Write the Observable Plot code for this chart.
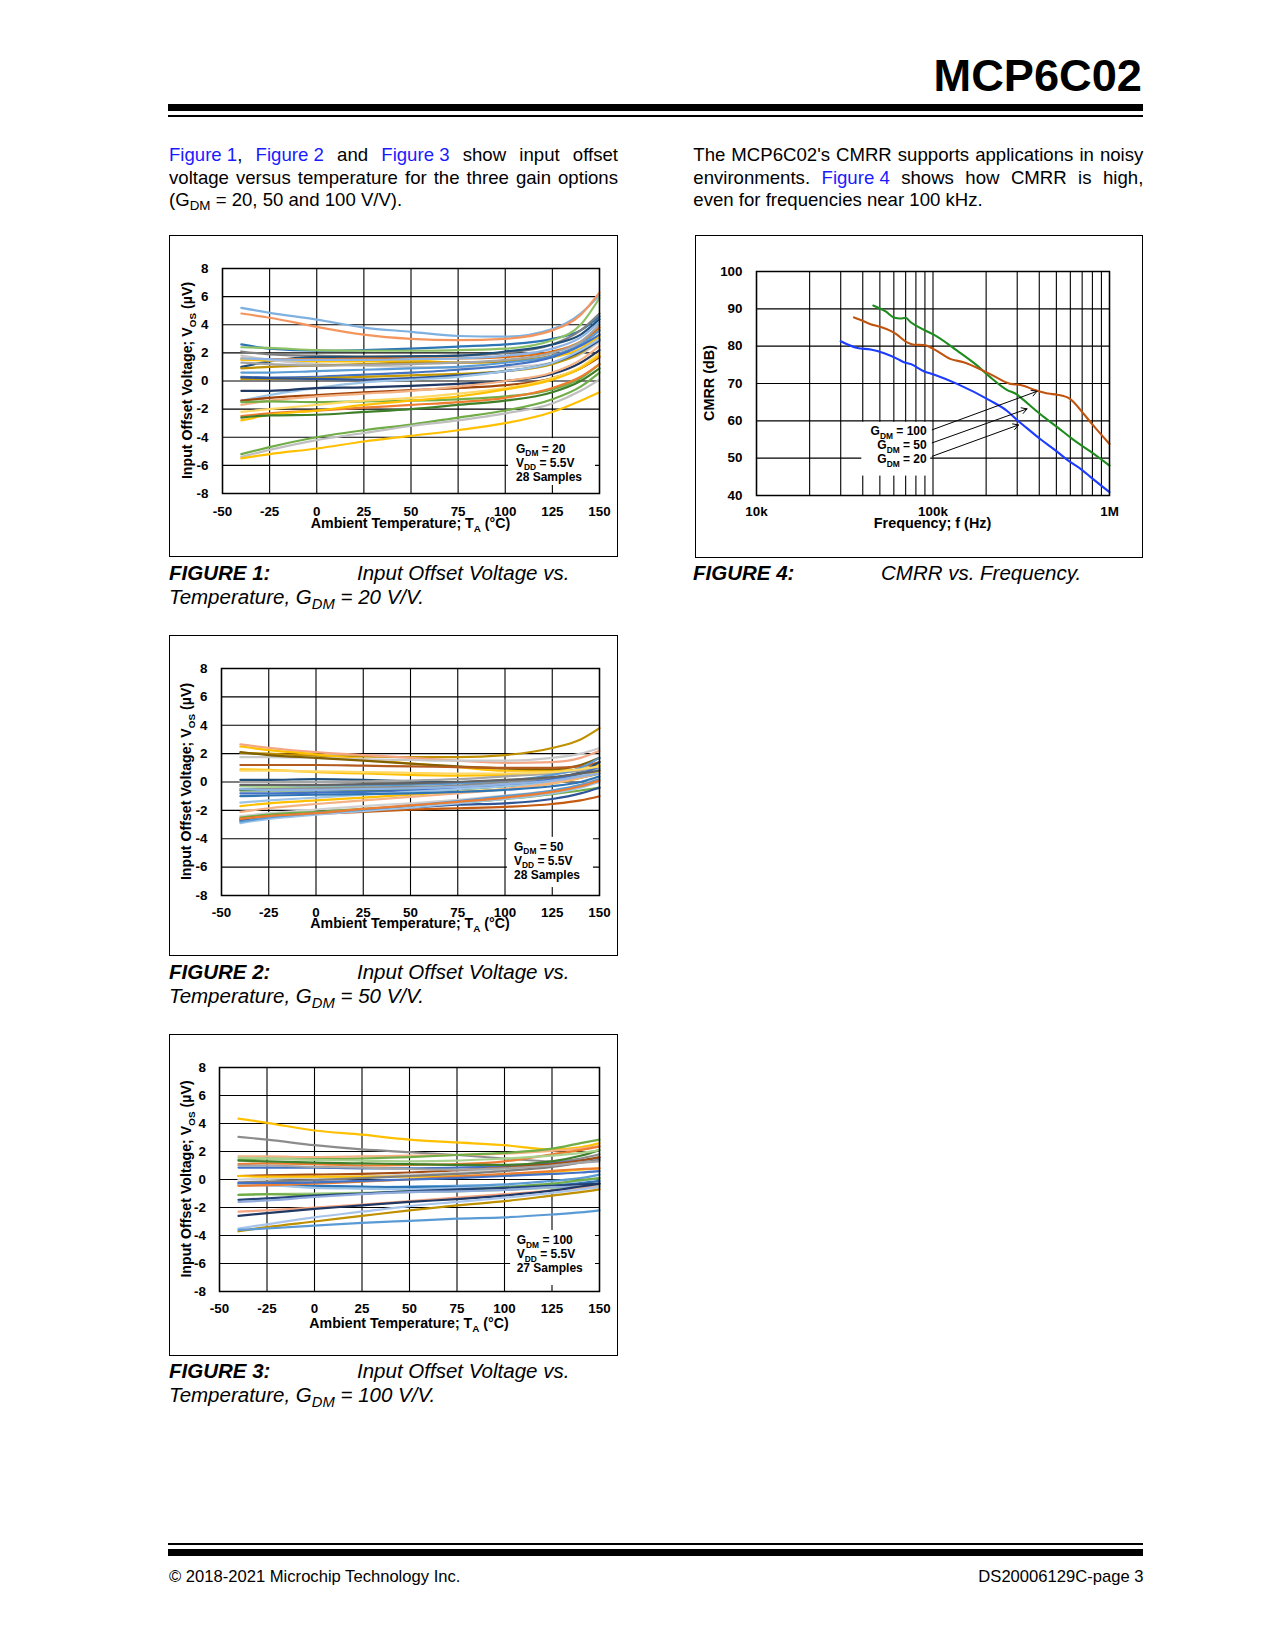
<!DOCTYPE html>
<html><head><meta charset="utf-8">
<script src="https://cdn.jsdelivr.net/npm/d3@7"></script>
<script src="https://cdn.jsdelivr.net/npm/@observablehq/plot@0.6"></script>
<style>
html,body{margin:0;padding:0;background:#fff;}
body{width:1275px;height:1650px;position:relative;font-family:"Liberation Sans",Arial,Helvetica,sans-serif;color:#000;overflow:hidden;}
.abs{position:absolute;white-space:nowrap;}
.rule{position:absolute;background:#000;left:168px;width:975px;}
.para{position:absolute;font-size:18.6px;line-height:22.5px;}
.para .j{text-align:justify;text-align-last:justify;white-space:nowrap;}
.link{color:#1a1aff;display:inline-block;}
.cap{position:absolute;font-size:20.5px;font-style:italic;line-height:24px;white-space:nowrap;}
.cap b{display:inline-block;width:188px;}
.chart{position:absolute;outline:1.2px solid #000;outline-offset:-1.2px;}
.chart svg{display:block;}
sub{font-size:0.72em;vertical-align:-0.32em;line-height:0;}
</style></head><body>

<div class="abs" style="left:700px;width:442px;text-align:right;top:52.7px;font-size:45.2px;line-height:45.2px;font-weight:bold;">MCP6C02</div>
<div class="rule" style="top:104px;height:7px"></div>
<div class="rule" style="top:115px;height:2px"></div>

<div class="para" style="left:169px;top:144.3px;width:449px">
<div class="j"><span class="link">Figure 1</span>, <span class="link">Figure 2</span> and <span class="link">Figure 3</span> show input offset</div>
<div class="j">voltage versus temperature for the three gain options</div>
<div style="white-space:nowrap">(G<sub>DM</sub> = 20, 50 and 100 V/V).</div>
</div>

<div class="para" style="left:693.3px;top:144.3px;width:450px">
<div class="j">The MCP6C02's CMRR supports applications in noisy</div>
<div class="j">environments. <span class="link">Figure 4</span> shows how CMRR is high,</div>
<div style="white-space:nowrap">even for frequencies near 100 kHz.</div>
</div>

<div id="f1" class="chart" style="left:169px;top:235px;width:449px;height:322px"></div>
<div id="f2" class="chart" style="left:169px;top:635px;width:449px;height:321px"></div>
<div id="f3" class="chart" style="left:169px;top:1034px;width:449px;height:322px"></div>
<div id="f4" class="chart" style="left:695px;top:235px;width:448px;height:323px"></div>

<div class="cap" style="left:169px;top:561px;"><b>FIGURE 1:</b>Input Offset Voltage vs.<br>Temperature, G<sub>DM</sub> = 20 V/V.</div>
<div class="cap" style="left:169px;top:960px;"><b>FIGURE 2:</b>Input Offset Voltage vs.<br>Temperature, G<sub>DM</sub> = 50 V/V.</div>
<div class="cap" style="left:169px;top:1359px;"><b>FIGURE 3:</b>Input Offset Voltage vs.<br>Temperature, G<sub>DM</sub> = 100 V/V.</div>
<div class="cap" style="left:693px;top:561px;"><b>FIGURE 4:</b>CMRR vs. Frequency.</div>

<div class="rule" style="top:1543px;height:2px"></div>
<div class="rule" style="top:1549px;height:7px"></div>
<div class="abs" style="left:169px;top:1569px;font-size:16.6px;line-height:16.6px">© 2018-2021 Microchip Technology Inc.</div>
<div class="abs" style="left:800px;width:343.5px;text-align:right;top:1569px;font-size:16.6px;line-height:16.6px">DS20006129C-page 3</div>

<script>
const FONT = '"Liberation Sans", Arial, Helvetica, sans-serif';

// ---------- Input offset voltage vs temperature ----------
const temps = [-40, -25, 0, 25, 50, 75, 100, 125, 140, 150];
const tempTicks = [-50, -25, 0, 25, 50, 75, 100, 125, 150];
const vosTicks = [-8, -6, -4, -2, 0, 2, 4, 6, 8];

const fig1Vos = [
  [5.2,4.85,4.37,3.8,3.5,3.2,3.15,3.7,4.8,6.1],
  [4.8,4.5,3.85,3.3,3.0,2.9,3.0,3.6,4.7,6.3],
  [2.6,2.3,2.15,2.2,2.3,2.45,2.6,3.0,3.6,4.6],
  [2.4,2.35,2.2,2.15,2.15,2.2,2.3,2.9,4.0,5.9],
  [2.1,1.9,1.8,1.75,1.75,1.8,2.0,2.6,3.6,4.8],
  [1.0,1.4,1.7,1.7,1.75,1.8,2.1,2.6,3.3,4.4],
  [1.6,1.55,1.55,1.6,1.6,1.6,1.7,2.1,2.8,3.8],
  [1.5,1.45,1.4,1.4,1.45,1.3,1.4,1.7,2.3,3.2],
  [1.8,1.5,1.2,1.1,1.0,0.95,1.0,1.3,1.9,2.8],
  [0.9,1.0,1.1,1.2,1.3,1.3,1.4,1.8,2.6,3.6],
  [0.6,0.6,0.7,0.8,0.9,1.0,1.3,1.8,2.6,3.6],
  [0.3,0.25,0.3,0.45,0.6,0.8,1.1,1.7,2.5,3.3],
  [0.15,0.15,0.2,0.3,0.4,0.5,0.7,1.2,2.0,3.0],
  [0.25,0.2,0.15,0.1,0.2,0.4,0.7,1.3,2.1,2.9],
  [-1.4,-1.0,-0.5,-0.1,0.1,0.3,0.7,1.3,2.2,3.0],
  [-0.7,-0.7,-0.5,-0.45,-0.35,-0.2,0.0,0.5,1.3,2.2],
  [-1.4,-1.2,-1.0,-0.8,-0.65,-0.5,-0.3,0.2,0.9,1.7],
  [-1.7,-1.4,-1.1,-0.9,-0.7,-0.4,0.0,0.6,1.5,2.5],
  [-1.5,-1.45,-1.5,-1.45,-1.4,-1.3,-1.1,-0.6,0.2,1.2],
  [-2.2,-2.0,-1.7,-1.4,-1.2,-0.9,-0.5,0.2,1.0,2.0],
  [-2.5,-2.3,-2.1,-1.9,-1.7,-1.5,-1.2,-0.5,0.3,1.2],
  [-2.8,-2.4,-2.1,-1.7,-1.4,-1.1,-0.6,0.1,0.9,1.8],
  [-2.6,-2.45,-2.4,-2.2,-2.0,-1.7,-1.4,-0.8,0.0,0.9],
  [-5.2,-4.7,-4.0,-3.5,-3.1,-2.6,-2.1,-1.3,-0.4,0.6],
  [-5.4,-4.9,-4.2,-3.7,-3.2,-2.8,-2.3,-1.6,-0.7,0.1],
  [-5.5,-5.2,-4.8,-4.3,-3.9,-3.5,-3.0,-2.2,-1.4,-0.8],
  [1.3,1.2,1.1,1.15,1.2,1.3,1.5,2.0,2.8,4.0],
  [1.6,1.55,1.5,1.5,1.55,1.6,1.8,2.3,3.1,4.2]
];
const fig1Colors = ["#7eb0e0","#f4955e","#2e75b6","#8cc164","#7f7f7f","#1f4e79","#e46c0a","#ffc000","#c9c9c9","#bf9000","#5b9bd5","#4472c4","#c59a00","#2f5597","#9dc3e6","#203864","#a0440c","#f4b183","#70ad47","#ffd966","#ed7d31","#ffc000","#3f7f2a","#70ad47","#bfbfbf","#ffc000","#a5a5a5","#8fb4e3"];

const fig2Vos = [
  [2.05,2.0,1.85,1.8,1.75,1.75,1.9,2.4,3.0,3.8],
  [2.65,2.4,2.1,1.9,1.7,1.5,1.35,1.4,1.7,2.2],
  [2.5,2.25,1.95,1.6,1.3,1.05,0.8,0.8,0.9,1.1],
  [1.75,1.75,1.7,1.6,1.55,1.5,1.5,1.7,2.0,2.4],
  [2.1,1.9,1.7,1.5,1.3,1.1,0.95,0.9,1.2,1.7],
  [1.2,1.2,1.2,1.15,1.1,1.05,1.0,1.0,1.1,1.4],
  [0.9,0.85,0.7,0.6,0.5,0.45,0.5,0.7,0.9,1.2],
  [0.15,0.15,0.2,0.15,0.05,0.0,0.1,0.3,0.7,1.4],
  [0.0,0.0,0.0,0.05,0.1,0.2,0.4,0.6,0.8,1.0],
  [-0.3,-0.3,-0.3,-0.25,-0.2,-0.1,0.1,0.5,1.0,1.7],
  [-0.3,-0.35,-0.4,-0.4,-0.35,-0.3,-0.1,0.2,0.5,0.9],
  [-0.5,-0.5,-0.45,-0.4,-0.35,-0.25,0.0,0.3,0.6,0.9],
  [-0.6,-0.6,-0.6,-0.6,-0.55,-0.5,-0.3,0.0,0.3,0.6],
  [-0.8,-0.8,-0.75,-0.7,-0.6,-0.4,-0.2,0.2,0.6,1.1],
  [-1.45,-1.3,-1.1,-0.9,-0.7,-0.5,-0.3,0.0,0.4,0.9],
  [-1.7,-1.5,-1.3,-1.1,-0.9,-0.7,-0.5,-0.1,0.3,0.8],
  [-2.1,-1.85,-1.55,-1.3,-1.05,-0.8,-0.5,-0.1,0.3,0.6],
  [-2.4,-2.2,-1.95,-1.7,-1.5,-1.25,-0.95,-0.6,-0.2,0.3],
  [-2.5,-2.3,-2.1,-1.9,-1.7,-1.5,-1.2,-0.85,-0.6,-0.4],
  [-2.7,-2.5,-2.2,-2.0,-1.8,-1.6,-1.5,-1.2,-0.8,-0.4],
  [-2.6,-2.4,-2.25,-2.1,-1.95,-1.85,-1.75,-1.55,-1.3,-1.0],
  [-2.9,-2.6,-2.3,-2.05,-1.8,-1.5,-1.2,-0.8,-0.4,0.0],
  [-2.8,-2.5,-2.2,-1.95,-1.65,-1.35,-1.0,-0.6,-0.2,0.2],
  [-2.6,-2.4,-2.2,-1.9,-1.65,-1.4,-1.1,-0.7,-0.3,0.1],
  [-0.2,-0.2,-0.2,-0.15,-0.1,0.0,0.15,0.35,0.6,0.8],
  [-0.5,-0.55,-0.55,-0.5,-0.45,-0.35,-0.15,0.1,0.4,0.6],
  [0.8,0.8,0.75,0.7,0.65,0.6,0.6,0.7,0.9,1.1],
  [-1.0,-0.95,-0.9,-0.85,-0.8,-0.7,-0.55,-0.3,0.0,0.4]
];
const fig2Colors = ["#c09000","#f4a582","#ffc000","#c9c9c9","#806000","#b35a1f","#ffc000","#1f4e79","#a5a5a5","#5b9bd5","#a9d18e","#8c8c8c","#3f7f2a","#4472c4","#9dc3e6","#ffc000","#f4b183","#d0d0d0","#70ad47","#2f5597","#c55a11","#9dc3e6","#5b9bd5","#ed7d31","#636363","#8fb4e3","#ffd966","#2e75b6"];

const fig3Vos = [
  [4.35,4.05,3.5,3.2,2.85,2.65,2.45,2.15,2.3,2.6],
  [3.05,2.85,2.45,2.15,1.95,1.75,1.5,1.3,1.5,1.8],
  [1.65,1.65,1.6,1.65,1.7,1.75,1.85,2.05,2.2,2.4],
  [1.4,1.5,1.45,1.5,1.6,1.75,1.9,2.2,2.6,2.85],
  [1.1,1.15,1.1,1.0,1.05,1.1,1.3,1.8,2.1,2.35],
  [0.85,0.85,0.85,0.8,0.8,0.85,0.95,1.15,1.35,1.55],
  [1.35,1.3,1.2,1.15,1.1,1.05,1.05,1.3,1.7,2.1],
  [0.25,0.3,0.35,0.4,0.5,0.65,0.85,1.1,1.35,1.6],
  [0.0,0.05,0.1,0.2,0.35,0.5,0.7,0.95,1.2,1.4],
  [0.25,0.2,0.2,0.2,0.2,0.25,0.35,0.55,0.7,0.8],
  [-0.2,-0.15,-0.05,0.1,0.25,0.4,0.6,0.9,1.2,1.4],
  [-0.3,-0.35,-0.5,-0.55,-0.5,-0.45,-0.35,-0.1,0.1,0.35],
  [-0.4,-0.4,-0.45,-0.5,-0.55,-0.55,-0.5,-0.4,-0.25,-0.1],
  [-0.35,-0.4,-0.6,-0.65,-0.7,-0.6,-0.5,-0.3,-0.1,0.1],
  [-0.45,-0.4,-0.3,-0.15,0.0,0.2,0.4,0.6,0.75,0.8],
  [-1.1,-1.05,-1.0,-0.95,-0.9,-0.85,-0.75,-0.6,-0.5,-0.4],
  [-1.1,-1.05,-1.1,-1.0,-0.85,-0.75,-0.55,-0.3,-0.05,0.1],
  [-1.45,-1.35,-1.15,-1.0,-0.85,-0.7,-0.6,-0.45,-0.35,-0.3],
  [-1.6,-1.5,-1.25,-1.05,-0.9,-0.85,-0.75,-0.55,-0.5,-0.5],
  [-2.3,-2.2,-2.0,-1.8,-1.55,-1.3,-1.05,-0.8,-0.6,-0.5],
  [-2.6,-2.4,-2.1,-1.85,-1.6,-1.4,-1.15,-0.8,-0.5,-0.3],
  [-3.5,-3.2,-2.7,-2.3,-1.9,-1.6,-1.3,-0.95,-0.7,-0.55],
  [-3.7,-3.4,-3.0,-2.6,-2.2,-1.85,-1.55,-1.15,-0.9,-0.7],
  [-3.6,-3.5,-3.3,-3.1,-2.95,-2.8,-2.7,-2.5,-2.35,-2.2],
  [1.0,1.0,0.9,0.85,0.75,0.7,0.8,1.0,1.2,1.3],
  [1.55,1.5,1.4,1.35,1.3,1.35,1.5,1.7,1.9,2.1],
  [-0.25,-0.25,-0.2,-0.1,0.0,0.1,0.25,0.4,0.5,0.6]
];
const fig3Colors = ["#ffc000","#8c8c8c","#f4b183","#70ad47","#ed7d31","#4472c4","#3f7f2a","#a64d14","#d0d0d0","#ffc000","#7f7f7f","#5b9bd5","#2e75b6","#9dc3e6","#ed7d31","#a9d18e","#70ad47","#264478","#8faadc","#f4a582","#1f3864","#a9c4eb","#bf9000","#5b9bd5","#a5a5a5","#a9d18e","#4472c4"];

// annotation boxes (white background behind the condition notes)
const fig1NoteBox = [{x1: 101.7, x2: 147.9, y1: -4.1, y2: -7.43}];
const fig2NoteBox = [{x1: 101.3, x2: 146.8, y1: -3.9, y2: -7.44}];
const fig3NoteBox = [{x1: 103.2, x2: 147.9, y1: -3.64, y2: -7.57}];
const fig1Note = [["G", "DM", " = 20"], ["V", "DD", " = 5.5V"], ["28 Samples"]];
const fig2Note = [["G", "DM", " = 50"], ["V", "DD", " = 5.5V"], ["28 Samples"]];
const fig3Note = [["G", "DM", " = 100"], ["V", "DD", " = 5.5V"], ["27 Samples"]];

// ---------- CMRR vs frequency ----------
const cmrrFreqG20 = [30e3,37.3e3,44.3e3,52.9e3,62.8e3,68.5e3,74.8e3,88.7e3,101e3,137e3,211e3,262e3,300e3,320e3,403e3,500e3,574e3,700e3,779e3,1e6];
const cmrrDbG20   = [81.3,79.5,79.1,78.1,76.6,75.7,75.2,73.3,72.4,69.9,65.4,62.7,60.2,59.1,55.2,51.9,49.6,46.8,45.0,40.9];
const cmrrFreqG50 = [45.9e3,53.9e3,60.6e3,65e3,70e3,74.8e3,88.7e3,101e3,137e3,178e3,211e3,262e3,300e3,313e3,403e3,506e3,626e3,779e3,1e6];
const cmrrDbG50   = [90.9,89.3,87.6,87.4,87.6,86.4,84.4,83.1,78.8,74.8,71.7,68.3,67.0,66.3,61.9,58.3,54.9,51.8,48.0];
const cmrrFreqG100 = [35.7e3,39e3,44.3e3,50e3,57.5e3,62e3,71.4e3,78e3,88.7e3,101e3,125e3,149e3,211e3,274e3,313e3,387e3,450e3,506e3,597e3,713e3,811e3,1e6];
const cmrrDbG100   = [87.7,87.0,85.9,85.2,84.1,83.2,81.0,80.4,80.3,79.2,76.6,75.7,72.5,69.9,69.6,68.1,67.3,67.0,65.9,61.9,58.7,53.8];
const cmrrColors = {g20: "#1c3cff", g50: "#1e8c1e", g100: "#c0540f"};
const cmrrGridF = [1e4,2e4,3e4,4e4,5e4,6e4,7e4,8e4,9e4,1e5,2e5,3e5,4e5,5e5,6e5,7e5,8e5,9e5,1e6];
const cmrrTicksF = [1e4, 1e5, 1e6];
const cmrrTickLabels = ["10k", "100k", "1M"];
const cmrrTicksDb = [40, 50, 60, 70, 80, 90, 100];
const cmrrNoteBox = [{x1: 39.5e3, x2: 97e3, y1: 45.2, y2: 59.6}];
const cmrrArrows = [
  {x1: 99e3, y1: 57.6, x2: 388e3, y2: 67.9},
  {x1: 99e3, y1: 54.1, x2: 341e3, y2: 63.2},
  {x1: 99e3, y1: 50.5, x2: 305e3, y2: 58.9}
];
const cmrrNote = [["G", "DM", " = 100"], ["G", "DM", " = 50"], ["G", "DM", " = 20"]];

// ---------- helpers ----------
function richText(sel, x, y, parts, {size = 14, anchor = "middle", rotate = false} = {}) {
  const t = sel.append("text")
    .attr("font-size", size).attr("font-weight", "bold").attr("text-anchor", anchor)
    .attr("fill", "#000").style("white-space", "pre").attr("font-family", FONT);
  if (rotate) t.attr("transform", `translate(${x},${y}) rotate(-90)`);
  else t.attr("x", x).attr("y", y);
  let shift = 0;
  parts.forEach((s, i) => {
    const sub = i % 2 === 1;
    const want = sub ? size * 0.3 : 0;
    t.append("tspan").attr("dy", want - shift).attr("font-size", sub ? size * 0.7 : size).text(s);
    shift = want;
  });
  return t;
}

function vosChart(o) {
  const data = o.vos.flatMap((s, i) => s.map((v, j) => ({t: temps[j], v, c: o.colors[i], k: i})));
  const chart = Plot.plot({
    width: o.w, height: o.h,
    marginLeft: o.ml, marginRight: o.mr, marginTop: o.mt, marginBottom: o.mb,
    style: {fontFamily: FONT, background: "transparent", overflow: "visible", color: "#000"},
    x: {domain: [-50, 150]},
    y: {domain: [-8, 8]},
    color: {type: "identity"},
    marks: [
      Plot.ruleX(tempTicks, {stroke: "#000", strokeWidth: 1.1}),
      Plot.ruleY(vosTicks, {stroke: "#000", strokeWidth: 1.1}),
      Plot.rect(o.box, {x1: "x1", x2: "x2", y1: "y1", y2: "y2", fill: "#fff"}),
      Plot.line(data, {x: "t", y: "v", z: "k", stroke: "c", strokeWidth: 2.2, curve: "monotone-x"}),
      Plot.frame({stroke: "#000", strokeWidth: 1.5}),
      Plot.axisX(tempTicks, {tickSize: 0, tickPadding: o.xpad, fontSize: 13.4, fontWeight: "bold", tickFormat: d => String(d), label: null}),
      Plot.axisY(vosTicks, {tickSize: 0, tickPadding: o.ypad, fontSize: 13.4, fontWeight: "bold", tickFormat: d => String(d), label: null})
    ]
  });
  const svg = d3.select(chart);
  richText(svg, o.xt[0], o.xt[1], ["Ambient Temperature; T", "A", " (°C)"], {size: 14.2});
  richText(svg, o.yt[0], o.yt[1], ["Input Offset Voltage; V", "OS", " (µV)"], {size: 14.2, rotate: true});
  o.note.forEach((p, i) => richText(svg, o.nx, o.ny + i * 14, p, {size: 12, anchor: "start"}));
  document.getElementById(o.id).appendChild(chart);
}

vosChart({id: "f1", vos: fig1Vos, colors: fig1Colors, box: fig1NoteBox, note: fig1Note,
  w: 449, h: 322, ml: 53, mr: 19, mt: 33, mb: 64, xpad: 12.8, ypad: 14,
  xt: [241.5, 293], yt: [22.7, 145.5], nx: 347, ny: 217.7});
vosChart({id: "f2", vos: fig2Vos, colors: fig2Colors, box: fig2NoteBox, note: fig2Note,
  w: 449, h: 321, ml: 52, mr: 19, mt: 33, mb: 61, xpad: 11.8, ypad: 14,
  xt: [241, 292.7], yt: [22, 146.5], nx: 345, ny: 215.7});
vosChart({id: "f3", vos: fig3Vos, colors: fig3Colors, box: fig3NoteBox, note: fig3Note,
  w: 449, h: 322, ml: 50, mr: 19, mt: 33, mb: 65, xpad: 12.3, ypad: 13.5,
  xt: [240, 293.7], yt: [21.7, 145], nx: 347.7, ny: 210});

// CMRR chart
{
  const series = [
    {f: cmrrFreqG20, db: cmrrDbG20, c: cmrrColors.g20},
    {f: cmrrFreqG50, db: cmrrDbG50, c: cmrrColors.g50},
    {f: cmrrFreqG100, db: cmrrDbG100, c: cmrrColors.g100}
  ];
  const data = series.flatMap((s, k) => s.f.map((f, i) => ({f, db: s.db[i], c: s.c, k})));
  const tickData = cmrrTicksF.map((f, i) => ({f, label: cmrrTickLabels[i]}));
  const chart = Plot.plot({
    width: 448, height: 323,
    marginLeft: 61, marginRight: 34, marginTop: 36, marginBottom: 63,
    style: {fontFamily: FONT, background: "transparent", overflow: "visible", color: "#000"},
    x: {type: "log", domain: [1e4, 1e6], axis: null},
    y: {domain: [40, 100], axis: null},
    color: {type: "identity"},
    marks: [
      Plot.ruleX(cmrrGridF, {stroke: "#000", strokeWidth: 1.1}),
      Plot.ruleY(cmrrTicksDb, {stroke: "#000", strokeWidth: 1.1}),
      Plot.rect(cmrrNoteBox, {x1: "x1", x2: "x2", y1: "y1", y2: "y2", fill: "#fff"}),
      Plot.line(data, {x: "f", y: "db", z: "k", stroke: "c", strokeWidth: 2.1, curve: "monotone-x"}),
      Plot.arrow(cmrrArrows, {x1: "x1", y1: "y1", x2: "x2", y2: "y2", stroke: "#000", strokeWidth: 1, headLength: 9}),
      Plot.frame({stroke: "#000", strokeWidth: 1.5}),
      Plot.text(tickData, {x: "f", frameAnchor: "bottom", lineAnchor: "top", dy: 10.5, text: "label", fontSize: 13.4, fontWeight: "bold", fill: "#000"}),
      Plot.axisY(cmrrTicksDb, {tickSize: 0, tickPadding: 14, fontSize: 13.4, fontWeight: "bold", tickFormat: d => String(d), label: null})
    ]
  });
  const svg = d3.select(chart);
  richText(svg, 237.5, 293, ["Frequency; f (Hz)"], {size: 14.4});
  richText(svg, 19, 148, ["CMRR (dB)"], {size: 14.4, rotate: true});
  cmrrNote.forEach((p, i) => richText(svg, 231.7, 200 + i * 14.2, p, {size: 12, anchor: "end"}));
  document.getElementById("f4").appendChild(chart);
}
</script>
</body></html>
